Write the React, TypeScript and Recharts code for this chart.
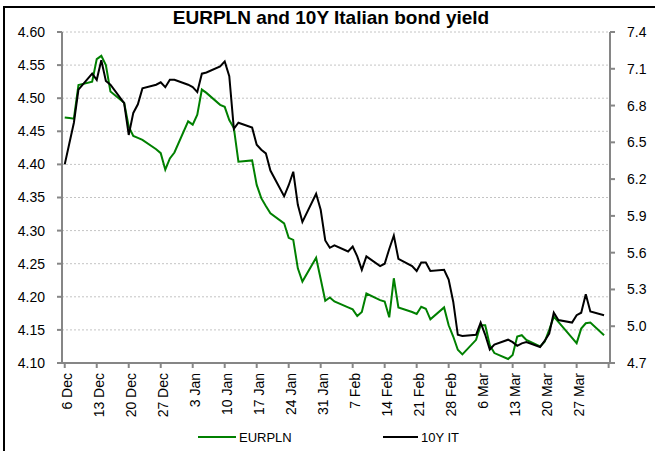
import { LineChart, Line, XAxis, YAxis, CartesianGrid } from 'recharts';

// business days, Dec 2011 - Apr 2012
const dates = [
  '2011-12-06', '2011-12-07', '2011-12-08', '2011-12-09',
  '2011-12-12', '2011-12-13', '2011-12-14', '2011-12-15', '2011-12-16',
  '2011-12-19', '2011-12-20', '2011-12-21', '2011-12-22', '2011-12-23',
  '2011-12-26', '2011-12-27', '2011-12-28', '2011-12-29', '2011-12-30',
  '2012-01-02', '2012-01-03', '2012-01-04', '2012-01-05', '2012-01-06',
  '2012-01-09', '2012-01-10', '2012-01-11', '2012-01-12', '2012-01-13',
  '2012-01-16', '2012-01-17', '2012-01-18', '2012-01-19', '2012-01-20',
  '2012-01-23', '2012-01-24', '2012-01-25', '2012-01-26', '2012-01-27',
  '2012-01-30', '2012-01-31', '2012-02-01', '2012-02-02', '2012-02-03',
  '2012-02-06', '2012-02-07', '2012-02-08', '2012-02-09', '2012-02-10',
  '2012-02-13', '2012-02-14', '2012-02-15', '2012-02-16', '2012-02-17',
  '2012-02-20', '2012-02-21', '2012-02-22', '2012-02-23', '2012-02-24',
  '2012-02-27', '2012-02-28', '2012-02-29', '2012-03-01', '2012-03-02',
  '2012-03-05', '2012-03-06', '2012-03-07', '2012-03-08', '2012-03-09',
  '2012-03-12', '2012-03-13', '2012-03-14', '2012-03-15', '2012-03-16',
  '2012-03-19', '2012-03-20', '2012-03-21', '2012-03-22', '2012-03-23',
  '2012-03-26', '2012-03-27', '2012-03-28', '2012-03-29', '2012-03-30',
  '2012-04-02',
];

const eurpln = [
  4.471, 4.470, 4.469, 4.520,
  4.525, 4.559, 4.564, 4.550, 4.510,
  4.493, 4.457, 4.443, 4.440, 4.437,
  4.423, 4.417, 4.392, 4.409, 4.418,
  4.465, 4.460, 4.475, 4.513, 4.508,
  4.490, 4.487, 4.467, 4.455, 4.404,
  4.406, 4.369, 4.349, 4.337, 4.326,
  4.311, 4.289, 4.286, 4.243, 4.223,
  4.259, 4.227, 4.194, 4.199, 4.193,
  4.184, 4.181, 4.171, 4.177, 4.205,
  4.195, 4.193, 4.169, 4.228, 4.184,
  4.177, 4.174, 4.185, 4.182, 4.166,
  4.184, 4.157, 4.140, 4.120, 4.113,
  4.135, 4.157, 4.157, 4.127, 4.115,
  4.106, 4.112, 4.140, 4.142, 4.135,
  4.125, 4.132, 4.150, 4.170, 4.162,
  4.138, 4.130, 4.152, 4.160, 4.161,
  4.142,
];

const it10y = [
  6.32, 6.49, 6.66, 6.93,
  7.06, 7.01, 7.17, 7.00, 6.97,
  6.82, 6.56, 6.74, 6.81, 6.94,
  6.97, 6.99, 6.95, 7.01, 7.01,
  6.97, 6.95, 6.91, 7.06, 7.07,
  7.12, 7.16, 7.04, 6.61, 6.66,
  6.62, 6.48, 6.44, 6.41, 6.27,
  6.06, 6.15, 6.26, 5.99, 5.85,
  6.08, 5.95, 5.70, 5.64, 5.66,
  5.61, 5.65, 5.57, 5.46, 5.57,
  5.49, 5.51, 5.63, 5.74, 5.55,
  5.49, 5.45, 5.52, 5.52, 5.45,
  5.46, 5.38, 5.20, 4.93, 4.92,
  4.93, 5.03, 4.93, 4.81, 4.85,
  4.89, 4.87, 4.84, 4.86, 4.87,
  4.83, 4.88, 4.94, 5.11, 5.05,
  5.03, 5.09, 5.11, 5.26, 5.12,
  5.09,
];

const xTickLabels = [
  '6 Dec', '13 Dec', '20 Dec', '27 Dec', '3 Jan', '10 Jan', '17 Jan', '24 Jan',
  '31 Jan', '7 Feb', '14 Feb', '21 Feb', '28 Feb', '6 Mar', '13 Mar', '20 Mar', '27 Mar',
];
const leftTicks = [4.1, 4.15, 4.2, 4.25, 4.3, 4.35, 4.4, 4.45, 4.5, 4.55, 4.6];
const rightTicks = [4.7, 5.0, 5.3, 5.6, 5.9, 6.2, 6.5, 6.8, 7.1, 7.4];

const START = Date.UTC(2011, 11, 6);
const dayOf = (s: string) => Math.round((Date.parse(s + 'T00:00:00Z') - START) / 86400000);

const data = dates.map((d, i) => ({ day: dayOf(d), eurpln: eurpln[i], it10y: it10y[i] }));
const xTicks = [...xTickLabels.map((_, i) => i * 7), 119];

const FONT = '"Liberation Sans", Arial, sans-serif';
const AXIS = { stroke: '#868686', strokeWidth: 2 };

function DateTick({ x, y, payload }: any) {
  const label = xTickLabels[payload.value / 7] ?? '';
  return (
    <text
      transform={`translate(${x + 7},${y}) rotate(-90)`}
      textAnchor="end"
      fontSize={14}
      fontFamily={FONT}
      fill="#000"
    >
      {label}
    </text>
  );
}

function LegendItem({ color, label, left, lineW }: { color: string; label: string; left: number; lineW: number }) {
  return (
    <div style={{ position: 'absolute', left, top: 428, display: 'flex', alignItems: 'center', height: 18 }}>
      <div style={{ width: lineW, height: 2, background: color, marginRight: 3 }} />
      <span style={{ fontSize: 13, fontFamily: FONT, color: '#000' }}>{label}</span>
    </div>
  );
}

export default function App() {
  return (
    <div style={{ position: 'absolute', left: 0, top: 0, width: 655, height: 451, overflow: 'hidden', background: '#fff' }}>
      <div style={{ position: 'absolute', left: 3, top: 6, width: 700, height: 500, border: '2px solid #000' }} />
      <div
        style={{
          position: 'absolute', left: 0, top: 7, width: 662, textAlign: 'center',
          fontFamily: FONT, fontWeight: 'bold', fontSize: 19, color: '#000',
        }}
      >
        EURPLN and 10Y Italian bond yield
      </div>
      <div style={{ position: 'absolute', left: 0, top: 0 }}>
        <LineChart width={655} height={451} data={data} margin={{ top: 32, right: 0, bottom: 28, left: 0 }}>
          <CartesianGrid yAxisId="left" vertical={false} stroke="#c4c4c4" strokeDasharray="2 2" />
          <XAxis
            dataKey="day"
            type="number"
            domain={[-0.6, 119.3]}
            ticks={xTicks}
            interval={0}
            height={60}
            tickSize={5}
            tickMargin={5}
            axisLine={AXIS}
            tickLine={AXIS}
            tick={<DateTick />}
            allowDataOverflow
          />
          <YAxis
            yAxisId="left"
            domain={[4.1, 4.6]}
            ticks={leftTicks}
            interval={0}
            width={62}
            tickSize={5}
            tickMargin={12}
            axisLine={AXIS}
            tickLine={AXIS}
            tickFormatter={(v: number) => v.toFixed(2)}
            tick={{ fontSize: 14, fontFamily: FONT, fill: '#000' }}
            allowDataOverflow
          />
          <YAxis
            yAxisId="right"
            orientation="right"
            domain={[4.7, 7.4]}
            ticks={rightTicks}
            interval={0}
            width={45}
            tickSize={5}
            tickMargin={12}
            axisLine={AXIS}
            tickLine={AXIS}
            tickFormatter={(v: number) => v.toFixed(1)}
            tick={{ fontSize: 14, fontFamily: FONT, fill: '#000', textAnchor: 'start' }}
            allowDataOverflow
          />
          <Line
            yAxisId="left"
            type="linear"
            dataKey="eurpln"
            stroke="#008000"
            strokeWidth={2}
            dot={false}
            isAnimationActive={false}
          />
          <Line
            yAxisId="right"
            type="linear"
            dataKey="it10y"
            stroke="#000"
            strokeWidth={2}
            dot={false}
            isAnimationActive={false}
          />
        </LineChart>
      </div>
      <LegendItem color="#008000" label="EURPLN" left={198} lineW={38} />
      <LegendItem color="#000" label="10Y IT" left={383} lineW={35} />
    </div>
  );
}
